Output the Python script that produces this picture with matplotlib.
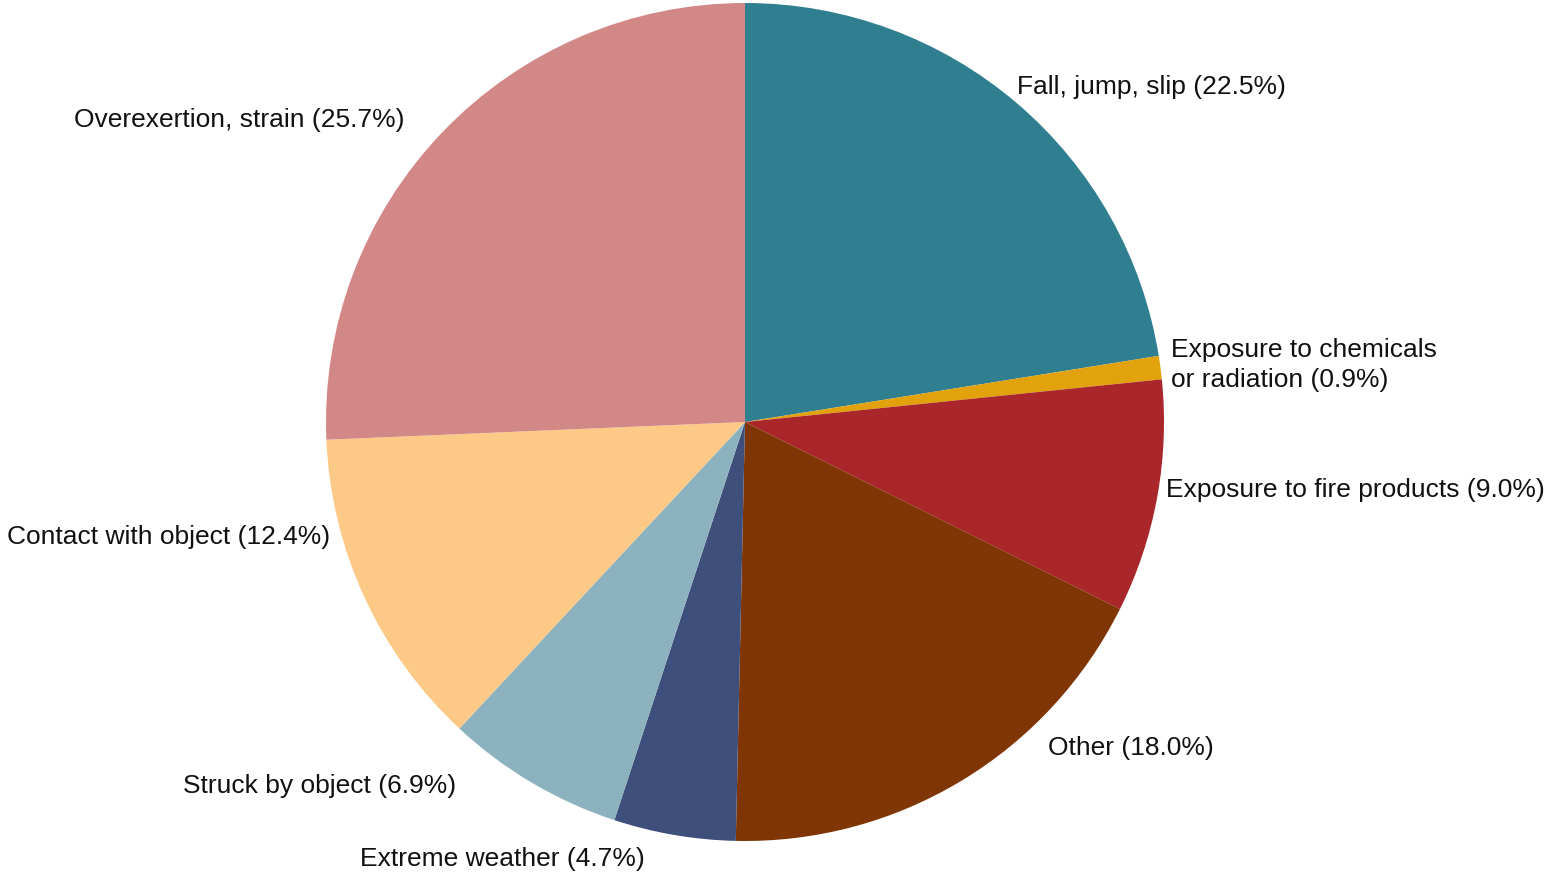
import matplotlib.pyplot as plt

plt.rcParams['font.family'] = ['Liberation Sans', 'DejaVu Sans']

categories = ['Fall, jump, slip', 'Exposure to chemicals\nor radiation', 'Exposure to fire products',
              'Other', 'Extreme weather', 'Struck by object', 'Contact with object', 'Overexertion, strain']
shares = [22.5, 0.9, 9.0, 18.0, 4.7, 6.9, 12.4, 25.7]
colors = ['#2F7F91', '#E2A20B', '#A9262A', '#803604', '#3D4F7A', '#8DB2BF', '#FDC986', '#D38888']

# label anchors in figure pixels (x, y from top) and alignment
label_px = [(1017, 87, 'left'), (1171, 365, 'left'), (1166, 490, 'left'), (1048, 748, 'left'),
            (502, 859, 'center'), (456, 786, 'right'), (330, 537, 'right'), (405, 120, 'right')]

W, H = 1548, 873
cx, cy, r = 745, 422, 419

fig = plt.figure(figsize=(W / 100, H / 100), dpi=100)
ax = fig.add_axes([0, 0, 1, 1])
ax.pie(shares, colors=colors, startangle=90, counterclock=False, radius=r, center=(cx, H - cy),
       wedgeprops={'linewidth': 0})
ax.set_xlim(0, W)
ax.set_ylim(0, H)
ax.set_aspect('equal')
ax.axis('off')

for name, val, (x, y, ha) in zip(categories, shares, label_px):
    ax.text(x, H - y, f'{name} ({val:.1f}%)', ha=ha, va='center', fontsize=19, color='#111111',
            linespacing=1.35)

fig.savefig('out.png', dpi=100)
